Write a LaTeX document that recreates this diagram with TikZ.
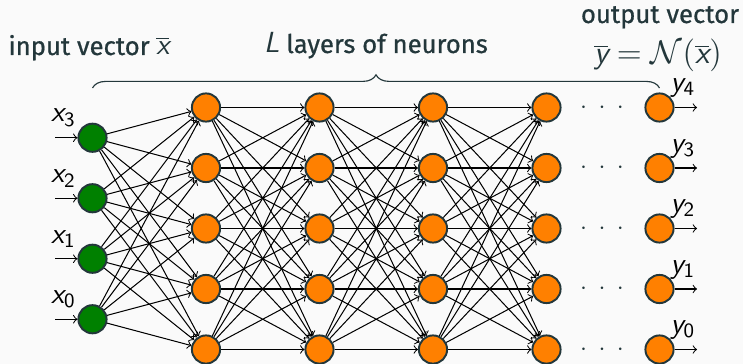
\documentclass[tikz,border=0pt]{standalone}
\usepackage{fontspec}
\setmainfont{Fira Sans}
\newfontfamily\headfont{Fira Sans}[RawFeature={embolden=0.7}]
\usetikzlibrary{decorations.pathreplacing}

\definecolor{bgc}{HTML}{FAFAFA}
\definecolor{ink}{HTML}{23373B}
\definecolor{inpfill}{RGB}{0,128,0}
\definecolor{neufill}{RGB}{255,128,0}

% sans italic variable with an upright sans index
\newcommand{\svar}[1]{{\sffamily\slshape #1}}
\newcommand{\sidx}[2]{\svar{#1}\textsubscript{\sffamily #2}}
\newcommand{\sbar}[1]{$\overline{\mbox{\svar{#1}}}$}
\newcommand{\mathsize}{\fontsize{12.8}{15}\selectfont}
\newcommand{\formulasize}{\fontsize{14}{16}\selectfont}

\begin{document}
\begin{tikzpicture}[x=0.44pt, y=-0.44pt,
  neuron/.style={circle, draw=ink, line width=0.85pt, minimum size=12.4pt, inner sep=0pt},
  inp/.style={neuron, fill=inpfill},
  hid/.style={neuron, fill=neufill},
  conn/.style={->, line width=0.45pt, black},
  lbl/.style={inner sep=0.5pt, font=\mathsize, black},
  title/.style={text=ink, font=\fontsize{11.3}{13}\headfont, inner sep=0pt},
  dots/.style={text=ink, font=\fontsize{11}{13}\selectfont, inner sep=0pt}]

  % canvas
  \fill[bgc] (0,0) rectangle (743,364);
  \useasboundingbox (0,0) rectangle (743,364);

  % input layer
  \foreach \k in {0,...,3}{
    \node[inp, label={[lbl, xshift=-2pt, yshift=-0.5pt]above left:\sidx{x}{\k}}]
      (in\k) at (92.5, {228.5+(1.5-\k)*60.5}) {};
    \coordinate (src\k) at (55, {228.5+(1.5-\k)*60.5});
  }

  % hidden layers
  \foreach \c/\xx in {1/206, 2/319.5, 3/433, 4/546.5}{
    \foreach \r in {0,...,4}{
      \node[hid] (h\c-\r) at (\xx, {228.5+(2-\r)*60.5}) {};
    }
  }

  % output layer
  \foreach \r in {0,...,4}{
    \node[hid, label={[lbl, xshift=-0.5pt, yshift=-1pt]above right:\sidx{y}{\r}}]
      (out\r) at (659.5, {228.5+(2-\r)*60.5}) {};
    \coordinate (snk\r) at (697, {228.5+(2-\r)*60.5});
    \node[dots] (gap\r) at (602, {228.5+(2-\r)*60.5}) {$\cdot\hspace{2.6pt}\cdot\hspace{2.6pt}\cdot$};
  }

  % input and output arrows
  \foreach \k in {0,...,3}{ \draw[conn] (src\k) -- (in\k); }
  \foreach \r in {0,...,4}{ \draw[conn] (out\r) -- (snk\r); }

  % full connections
  \foreach \k in {0,...,3}{
    \foreach \r in {0,...,4}{ \draw[conn] (in\k) -- (h1-\r); }
  }
  \foreach \c/\n in {1/2, 2/3, 3/4}{
    \foreach \r in {0,...,4}{
      \foreach \s in {0,...,4}{ \draw[conn] (h\c-\r) -- (h\n-\s); }
    }
  }

  % brace over the layers
  \coordinate (bl) at (92.5, 88);
  \coordinate (br) at (659.5, 88);
  \draw[ink, line width=0.5pt, decorate, decoration={brace, amplitude=5.8pt}] (bl) -- (br);

  % titles
  \node[title, anchor=base west] (tin) at (8, 55) {input vector {\mathsize\sbar{x}}};
  \node[title, anchor=base] (tmid) at (376, 53) {{\mathsize\svar{L}} layers of neurons};
  \node[title, anchor=base] (tout) at (660, 23) {output vector};
  \node[title, anchor=base] (tfun) at (658, 64)
    {\formulasize\sbar{y} $=\mathcal{N}($\sbar{x}$)$};
\end{tikzpicture}
\end{document}
